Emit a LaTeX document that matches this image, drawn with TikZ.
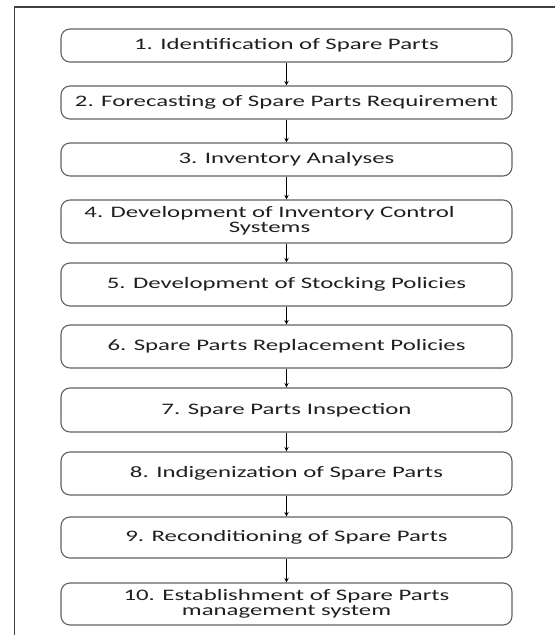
\documentclass[tikz,border=0pt]{standalone}
\usepackage{fontspec}
\setmainfont{Carlito}[FakeStretch=1.55]
\usetikzlibrary{arrows.meta}
\begin{document}
\begin{tikzpicture}[x=1pt,y=-1pt,
  stepbox/.style={draw=black!62, line width=1.1pt, rounded corners=9pt, minimum width=451pt,
    inner sep=0pt, align=center, font=\fontsize{16}{15}\selectfont, text=black!88},
  flow/.style={draw=black, line width=1pt, -{Stealth[length=4.5pt,width=4.5pt]}}]
\useasboundingbox (0,0) rectangle (555,635);
\draw[black!75, line width=1.2pt] (555,7) -- (14.5,7) -- (14.5,635);
\node[stepbox, minimum height=33pt] (b1) at (286.5,45.5) {1. Identification of Spare Parts};
\node[stepbox, minimum height=33pt] (b2) at (286.5,102.5) {2. Forecasting of Spare Parts Requirement};
\node[stepbox, minimum height=33pt] (b3) at (286.5,159.5) {3. Inventory Analyses};
\node[stepbox, minimum height=43pt] (b4) at (286.5,221.5) {\begin{tabular}{@{}c@{}}4. Development of Inventory Control\\Systems\end{tabular}\hspace*{34pt}};
\node[stepbox, minimum height=43pt] (b5) at (286.5,284.5) {5. Development of Stocking Policies};
\node[stepbox, minimum height=43pt] (b6) at (286.5,346.5) {6. Spare Parts Replacement Policies};
\node[stepbox, minimum height=44pt] (b7) at (286.5,410) {\raisebox{1pt}{7. Spare Parts Inspection}};
\node[stepbox, minimum height=43pt] (b8) at (286.5,473.5) {\raisebox{4pt}{8. Indigenization of Spare Parts}};
\node[stepbox, minimum height=41pt] (b9) at (286.5,537.5) {9. Reconditioning of Spare Parts};
\node[stepbox, minimum height=42pt] (b10) at (286.5,604) {10. Establishment of Spare Parts\\management system};
\foreach \a/\b in {b1/b2,b2/b3,b3/b4,b4/b5,b5/b6,b6/b7,b7/b8,b8/b9,b9/b10}
  \draw[flow] (\a.south) -- (\b.north);
\end{tikzpicture}
\end{document}
